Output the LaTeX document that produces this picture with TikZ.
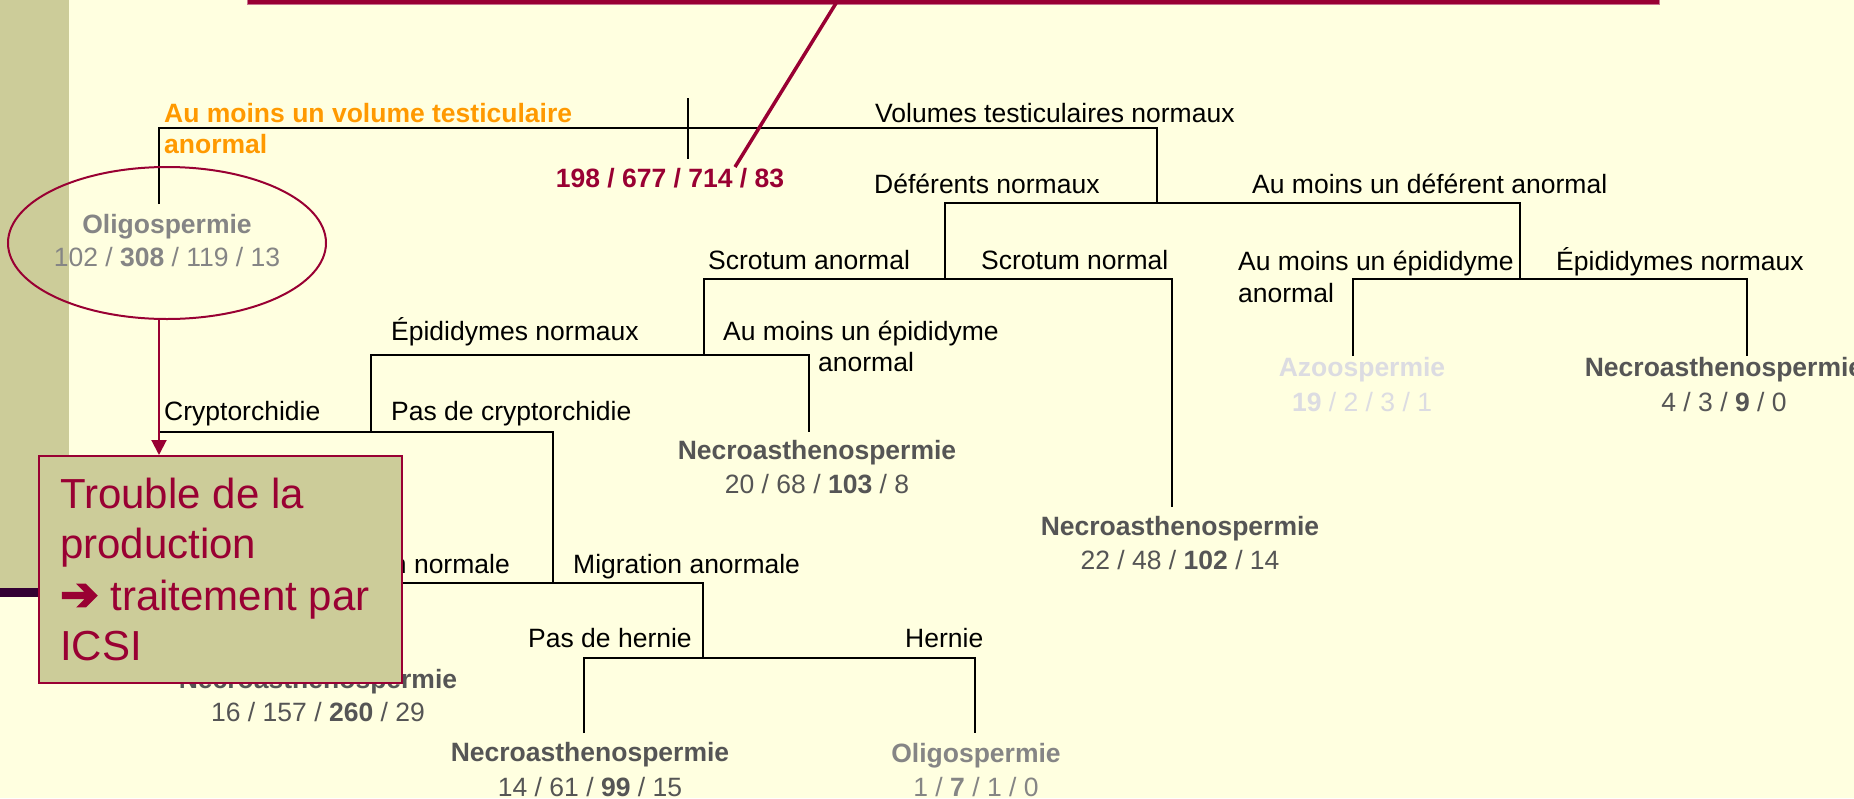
\documentclass[tikz,border=0pt]{standalone}
\usepackage{fontspec}
\setmainfont{Liberation Sans}
\newfontfamily\dejavu[FakeBold=4]{DejaVu Sans}
\usetikzlibrary{arrows.meta,shapes.geometric}
\definecolor{bgc}{HTML}{FFFFE0}
\definecolor{stripe}{HTML}{CCCC99}
\definecolor{crim}{HTML}{990033}
\definecolor{darkln}{HTML}{330033}
\definecolor{orng}{HTML}{FF9900}
\definecolor{gOligo}{HTML}{858585}
\definecolor{gNec}{HTML}{555555}
\definecolor{gAzo}{HTML}{DCDCE2}
\tikzset{
  tree/.style={line width=2pt, black},
  lbl/.style={font=\fontsize{26.5}{31}\selectfont, inner sep=0pt, anchor=base west, text=black},
  ttl/.style={font=\fontsize{26.5}{31}\selectfont\bfseries, inner sep=0pt, anchor=base},
  num/.style={font=\fontsize{26.5}{31}\selectfont, inner sep=0pt, anchor=base},
  boxtxt/.style={font=\fontsize{42}{51}\selectfont, text=crim, inner sep=0pt, anchor=base west},
}
\begin{document}
\begin{tikzpicture}[x=1pt,y=-1pt]
\useasboundingbox (0,0) rectangle (1854,798);
\clip (0,0) rectangle (1854,798);
% background
\fill[bgc] (0,0) rectangle (1854,798);
\fill[stripe] (0,0) rectangle (69,588);
\fill[darkln] (0,588) rectangle (250,597);
% top callout edge
\fill[crim, draw=crim!55, line width=0.8pt] (247,-10) rectangle (1659,4);

% junction coordinates
\coordinate (rt) at (688,98);  \coordinate (rb) at (688,159);
\coordinate (a1) at (159,128); \coordinate (a2) at (1157,128);
\coordinate (oTop) at (159,204);
\coordinate (b1) at (945,203); \coordinate (b2) at (1520,203);
\coordinate (c1) at (704,279); \coordinate (c2) at (1172,279);
\coordinate (d1) at (1353,279); \coordinate (d2) at (1747,279);
\coordinate (e1) at (371,355); \coordinate (e2) at (809,355);
\coordinate (f1) at (159,432); \coordinate (f2) at (553,432);
\coordinate (g1) at (293,583); \coordinate (g2) at (703,583);
\coordinate (h1) at (584,658); \coordinate (h2) at (975,658);
\coordinate (c2e) at (1172,507);
\coordinate (d1e) at (1353,356); \coordinate (d2e) at (1747,356);
\coordinate (e2e) at (809,432);
\coordinate (g1e) at (293,655);
\coordinate (h1e) at (584,733); \coordinate (h2e) at (975,733);

% tree lines
\draw[tree] (rt) -- (rb);
\draw[tree] (oTop) -- (a1) -- (a2) -- (a2 |- b1);
\draw[tree] (c1 -| b1) -- (b1) -- (b2) -- (b2 |- d1);
\draw[tree] (e1 -| c1) -- (c1) -- (c2) -- (c2e);
\draw[tree] (d1e) -- (d1) -- (d2) -- (d2e);
\draw[tree] (f1 -| e1) -- (e1) -- (e2) -- (e2e);
\draw[tree] (f1) -- (f2) -- (g2 -| f2);
\draw[tree] (g1e) -- (g1) -- (g2) -- (h1 -| g2);
\draw[tree] (h1e) -- (h1) -- (h2) -- (h2e);

% root
\node[ttl, text=crim] (root) at (670,187.5) {198 / 677 / 714 / 83};
\coordinate (bartop) at (838,0);
\coordinate (barend) at (735,167);
\draw[crim, line width=3.5pt] (bartop) -- (barend);

% branch labels
\node[lbl, text=orng, font=\fontsize{26.5}{31}\selectfont\bfseries] (l1) at (164,122) {Au moins un volume testiculaire};
\node[lbl, text=orng, font=\fontsize{26.5}{31}\selectfont\bfseries] (l1b) at (164,153) {anormal};
\node[lbl] (l2) at (875,122) {Volumes testiculaires normaux};
\node[lbl] (l3) at (874,193) {Déférents normaux};
\node[lbl] (l4) at (1252,193) {Au moins un déférent anormal};
\node[lbl] (l5) at (708,269) {Scrotum anormal};
\node[lbl] (l6) at (981,269) {Scrotum normal};
\node[lbl] (l7) at (1238,270) {Au moins un épididyme};
\node[lbl] (l7b) at (1238,302) {anormal};
\node[lbl] (l8) at (1556,270) {Épididymes normaux};
\node[lbl] (l9) at (391,340) {Épididymes normaux};
\node[lbl] (l10) at (723,340) {Au moins un épididyme};
\node[lbl] (l10b) at (818,371) {anormal};
\node[lbl] (l11) at (164,420) {Cryptorchidie};
\node[lbl] (l12) at (391,420) {Pas de cryptorchidie};
\node[lbl, anchor=base east] (l13) at (510,573) {Migration normale};
\node[lbl] (l14) at (573,573) {Migration anormale};
\node[lbl] (l15) at (528,647) {Pas de hernie};
\node[lbl] (l16) at (905,647) {Hernie};

% leaves
\node[ttl, text=gOligo] (o1) at (167,233) {Oligospermie};
\node[num, text=gOligo] (o1n) at (167,266) {102 / \textbf{308} / 119 / 13};
\node[draw=crim, line width=2pt, ellipse, minimum width=318pt, minimum height=152pt, inner sep=0pt] (ell) at (167,243) {};

\node[ttl, text=gNec] (n1) at (817,459.5) {Necroasthenospermie};
\node[num, text=gNec] (n1n) at (817,493.5) {20 / 68 / \textbf{103} / 8};
\node[ttl, text=gNec] (n2) at (1180,535) {Necroasthenospermie};
\node[num, text=gNec] (n2n) at (1180,569) {22 / 48 / \textbf{102} / 14};
\node[ttl, text=gAzo] (az) at (1362,376) {Azoospermie};
\node[num, text=gAzo] (azn) at (1362,411) {\textbf{19} / 2 / 3 / 1};
\node[ttl, text=gNec] (n3) at (1724,376) {Necroasthenospermie};
\node[num, text=gNec] (n3n) at (1724,411) {4 / 3 / \textbf{9} / 0};
\node[ttl, text=gNec] (n4) at (318,688) {Necroasthenospermie};
\node[num, text=gNec] (n4n) at (318,721) {16 / 157 / \textbf{260} / 29};
\node[ttl, text=gNec] (n5) at (590,761) {Necroasthenospermie};
\node[num, text=gNec] (n5n) at (590,796) {14 / 61 / \textbf{99} / 15};
\node[ttl, text=gOligo] (o2) at (976,762) {Oligospermie};
\node[num, text=gOligo] (o2n) at (976,796) {1 / \textbf{7} / 1 / 0};

% callout box
\node[draw=crim, fill=stripe, line width=2pt, minimum width=363pt, minimum height=227pt, anchor=north west, inner sep=0pt] (box) at (38,455) {};
\node[boxtxt] (t1) at (60,508) {Trouble de la};
\node[boxtxt] (t2) at (60,558) {production};
\node[boxtxt] (t3) at (60,610) {{\dejavu\fontsize{46}{51}\selectfont ➔} traitement par};
\node[boxtxt] (t4) at (60,660) {ICSI};
\draw[crim, line width=2pt, -{Triangle[width=15pt,length=15pt]}] (ell.south -| a1) -- (box.north -| a1);
\end{tikzpicture}
\end{document}
